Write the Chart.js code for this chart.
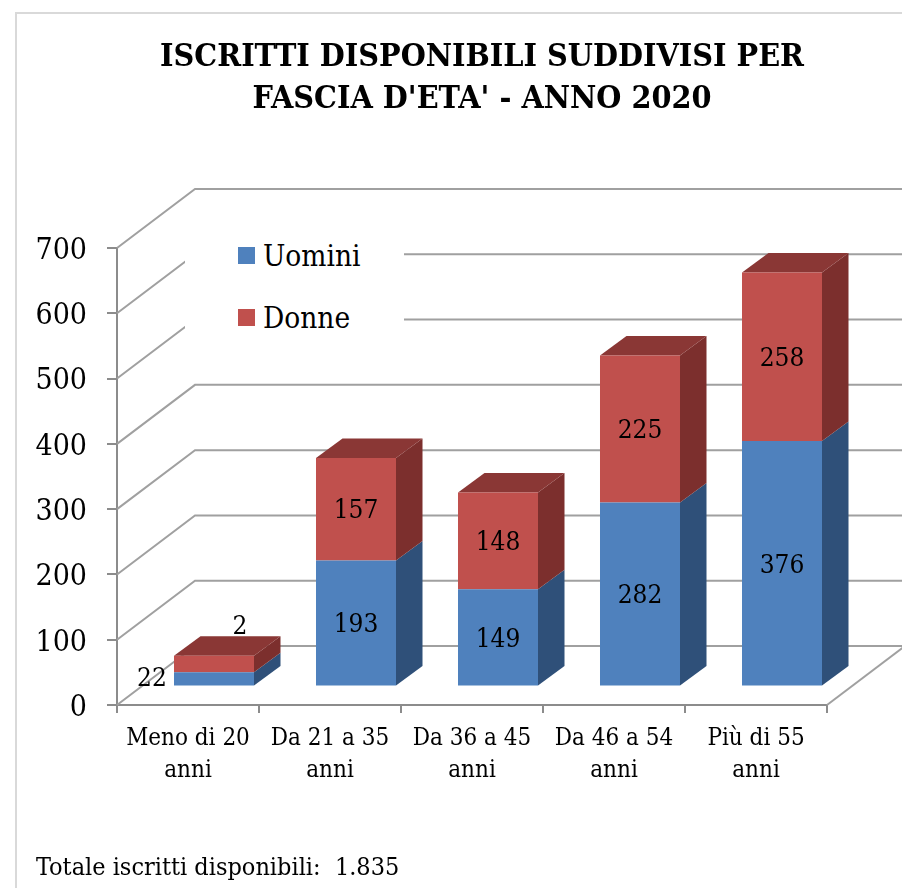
<!DOCTYPE html>
<html lang="it">
<head>
<meta charset="utf-8">
<title>Iscritti disponibili</title>
<script src="https://cdn.jsdelivr.net/npm/chart.js@4"></script>
<style>
    html, body { margin: 0; padding: 0; background: #fff; overflow: hidden; }
    body { width: 902px; height: 888px; position: relative; font-family: "DejaVu Serif Condensed", "DejaVu Serif", serif; color: #000; }
    #frame { position: absolute; left: 15px; top: 12px; width: 900px; height: 900px; border: 2px solid #d9d9d9; box-sizing: border-box; }
    canvas { position: absolute; left: 0; top: 0; }
    #title { position: absolute; left: 62px; width: 840px; top: 34px; text-align: center; font-size: 32px; line-height: 42px; font-weight: bold; white-space: nowrap; }
    #legendBox { position: absolute; left: 185px; top: 205px; width: 219px; height: 150px; background: #fff; }
    .legendItem { position: absolute; left: 53px; font-size: 29.5px; line-height: 36px; height: 36px; padding-left: 25px; }
    .legendItem i { position: absolute; left: 0; top: 9px; width: 17px; height: 17px; }
    #footer { position: absolute; left: 36px; top: 853px; font-size: 25px; line-height: 28px; white-space: pre; }
</style>
</head>
<body>
<div id="frame"></div>
<canvas id="chart" width="902" height="888"></canvas>
<div id="title">ISCRITTI DISPONIBILI SUDDIVISI PER<br>FASCIA D'ETA' - ANNO 2020</div>
<div id="legendBox"></div>
<div id="footer">Totale iscritti disponibili:  1.835</div>
<script>
const categories = [['Meno di 20', 'anni'], ['Da 21 a 35', 'anni'], ['Da 36 a 45', 'anni'], ['Da 46 a 54', 'anni'], ['Più di 55', 'anni']];
const uomini = [22, 193, 149, 282, 376];
const donne = [25, 157, 148, 225, 258];
// the first red label is cut to "2" in the original
const uominiLabels = ['22', '193', '149', '282', '376'];
const donneLabels = ['2', '157', '148', '225', '258'];
const yTicks = [0, 100, 200, 300, 400, 500, 600, 700];

const fontFamily = '"DejaVu Serif Condensed", "DejaVu Serif", serif';
const gridColor = '#a0a0a0';
const axisColor = '#8c8c8c';

const wallX = 78, wallY = 59;   // front axis -> back wall
const barX = 26, barY = 18.5;   // bars stand inside the floor
const depthX = 26.5, depthY = 19.5;

const plugin3d = {
    id: 'plugin3d',
    beforeDatasetsDraw(chart) {
        const ctx = chart.ctx;
        const y = chart.scales.y;
        const area = chart.chartArea;

        // walls and floor
        ctx.save();
        ctx.strokeStyle = gridColor;
        ctx.lineWidth = 2;
        yTicks.forEach(t => {
            const py = y.getPixelForValue(t);
            ctx.beginPath();
            ctx.moveTo(area.left, py);
            ctx.lineTo(area.left + wallX, py - wallY);
            ctx.lineTo(chart.width, py - wallY);
            ctx.stroke();
        });
        ctx.beginPath();
        ctx.moveTo(area.right, area.bottom);
        ctx.lineTo(area.right + wallX, area.bottom - wallY);
        ctx.stroke();
        ctx.restore();

        // bars are shifted back, restored in afterDatasetsDraw
        ctx.save();
        ctx.translate(barX, -barY);
        const sides = ['#2f5079', '#7c2f2d'];
        chart.data.datasets.forEach((ds, i) => {
            chart.getDatasetMeta(i).data.forEach(bar => {
                const r = bar.x + bar.width / 2;
                ctx.fillStyle = sides[i];
                ctx.beginPath();
                ctx.moveTo(r, bar.y);
                ctx.lineTo(r + depthX, bar.y - depthY);
                ctx.lineTo(r + depthX, bar.base - depthY);
                ctx.lineTo(r, bar.base);
                ctx.closePath();
                ctx.fill();
                if (i === 1) {
                    const l = bar.x - bar.width / 2;
                    ctx.fillStyle = '#8a3735';
                    ctx.beginPath();
                    ctx.moveTo(l, bar.y);
                    ctx.lineTo(l + depthX, bar.y - depthY);
                    ctx.lineTo(r + depthX, bar.y - depthY);
                    ctx.lineTo(r, bar.y);
                    ctx.closePath();
                    ctx.fill();
                }
            });
        });
    },
    afterDatasetsDraw(chart) {
        const ctx = chart.ctx;
        ctx.restore();

        // value labels
        ctx.save();
        ctx.fillStyle = '#000';
        ctx.font = '26px ' + fontFamily;
        ctx.textAlign = 'center';
        ctx.textBaseline = 'middle';
        const texts = [uominiLabels, donneLabels];
        const firstBar = [[-62, -2], [26, -39]];
        chart.data.datasets.forEach((ds, i) => {
            chart.getDatasetMeta(i).data.forEach((bar, j) => {
                let x = bar.x + barX;
                let yy = (bar.y + bar.base) / 2 - barY + 2.5;
                if (j === 0) {
                    x += firstBar[i][0];
                    yy += firstBar[i][1];
                }
                ctx.fillText(texts[i][j], x, yy);
            });
        });
        ctx.restore();
    }
};

const chart = new Chart(document.getElementById('chart'), {
    type: 'bar',
    data: {
        labels: categories,
        datasets: [
            { label: 'Uomini', data: uomini, backgroundColor: '#4f81bd', clip: false },
            { label: 'Donne', data: donne, backgroundColor: '#c0504d', clip: false }
        ]
    },
    options: {
        responsive: false,
        animation: false,
        layout: { padding: { left: 0, right: 75, top: 248, bottom: 0 } },
        plugins: { legend: { display: false }, title: { display: false }, tooltip: { enabled: false } },
        datasets: { bar: { barPercentage: 1, categoryPercentage: 0.5634, borderWidth: 0 } },
        scales: {
            x: {
                stacked: true,
                afterFit(scale) { scale.height = 183; },
                grid: { drawOnChartArea: false, color: axisColor, lineWidth: 2, tickLength: 8, offset: true },
                border: { color: axisColor, width: 2 },
                ticks: {
                    color: '#000',
                    padding: 10,
                    maxRotation: 0,
                    autoSkip: false,
                    font: { family: fontFamily, size: 24, lineHeight: 1.34 }
                }
            },
            y: {
                stacked: true,
                min: 0,
                max: 700,
                afterFit(scale) { scale.width = 117; },
                grid: { drawOnChartArea: false, color: axisColor, lineWidth: 2, tickLength: 10 },
                border: { color: axisColor, width: 2 },
                ticks: {
                    stepSize: 100,
                    color: '#000',
                    padding: 20,
                    labelOffset: 3,
                    font: { family: fontFamily, size: 30 }
                }
            }
        }
    },
    plugins: [plugin3d]
});

// legend from the chart's own datasets
const legendBox = document.getElementById('legendBox');
const legendTops = [33, 95];
chart.data.datasets.forEach((ds, i) => {
    const item = document.createElement('div');
    item.className = 'legendItem';
    item.style.top = legendTops[i] + 'px';
    item.innerHTML = '<i style="background:' + ds.backgroundColor + '"></i>' + ds.label;
    legendBox.appendChild(item);
});
</script>
</body>
</html>
